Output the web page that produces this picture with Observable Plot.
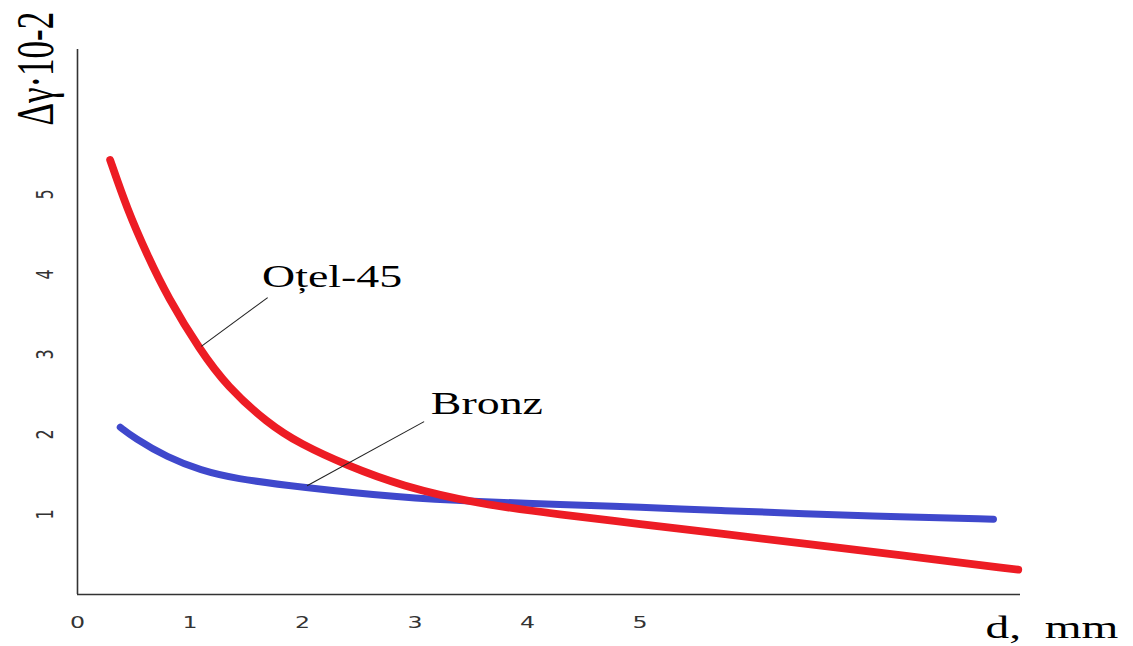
<!DOCTYPE html>
<html><head><meta charset="utf-8">
<script src="https://cdn.jsdelivr.net/npm/d3@7"></script>
<script src="https://cdn.jsdelivr.net/npm/@observablehq/plot@0.6"></script>
<style>body{margin:0;background:#fff;overflow:hidden}</style>
</head><body><div id="chart"></div>
<script>
// Data (d in mm, Δγ in units of 10^-2)
const otelD = [0.29,0.44,0.62,0.80,1.09,1.33,1.69,1.98,2.40,2.87,3.56,4.29,5.00,5.72,6.43,7.32,8.36];
const otelG = [5.43,4.82,4.24,3.72,3.05,2.60,2.14,1.88,1.61,1.36,1.13,1.00,0.88,0.76,0.64,0.49,0.31];
const bronzD = [0.38,0.50,0.80,1.10,1.39,1.98,2.87,3.56,4.29,5.00,5.72,6.43,7.32,8.14];
const bronzG = [2.09,1.96,1.71,1.55,1.45,1.34,1.21,1.16,1.125,1.09,1.05,1.01,0.97,0.94];
const xTicks = [0,1,2,3,4,5];
const yTicks = [1,2,3,4,5];
const seriesNames = ["Oțel-45","Bronz"];
const seriesColors = ["#ed1c24","#3f48cc"];
// annotation label anchors and leader lines (data units)
const labelD = [1.64,3.14];
const labelG = [3.84,2.25];
const leaderD1 = [1.69,3.08], leaderG1 = [3.71,2.16];
const leaderD2 = [1.10,2.04], leaderG2 = [3.10,1.36];
const yTitle = "Δγ·10-2";
const xTitle = "d,\u00A0\u00A0mm";

const otel = otelD.map((d,i)=>({d, g:otelG[i]}));
const bronz = bronzD.map((d,i)=>({d, g:bronzG[i]}));
const labels = seriesNames.map((name,i)=>({name, d:labelD[i], g:labelG[i]}));
const leaders = seriesNames.map((name,i)=>({x1:leaderD1[i], y1:leaderG1[i], x2:leaderD2[i], y2:leaderG2[i]}));

const serif = "'Liberation Serif', 'Times New Roman', serif";
const sans = "'DejaVu Sans', Verdana, sans-serif";

const plot = Plot.plot({
  width: 1133, height: 646,
  marginLeft: 77, marginRight: 113, marginTop: 49, marginBottom: 52,
  x: {domain: [0, 8.38], axis: null},
  y: {domain: [0, 6.81], axis: null},
  style: {background: "#fff"},
  marks: [
    Plot.ruleX([0], {stroke: "#333", strokeWidth: 1.6}),
    Plot.ruleY([0], {stroke: "#333", strokeWidth: 1.6}),
    Plot.axisX(xTicks, {tickSize: 0, tickPadding: 22, tickFormat: "d", fontSize: 16, fontFamily: sans, fill: "#333", label: null}),
    Plot.axisY(yTicks, {tickSize: 0, tickPadding: 25, tickRotate: -90, tickFormat: "d", fontSize: 16, fontFamily: sans, fill: "#333", label: null}),
    Plot.line(bronz, {x: "d", y: "g", stroke: seriesColors[1], strokeWidth: 7, curve: "basis", strokeLinecap: "round"}),
    Plot.line(otel, {x: "d", y: "g", stroke: seriesColors[0], strokeWidth: 7.8, curve: "basis", strokeLinecap: "round"}),
    Plot.link(leaders, {x1: "x1", y1: "y1", x2: "x2", y2: "y2", stroke: "#222", strokeWidth: 1.1}),
    Plot.text(labels, {x: "d", y: "g", text: "name", textAnchor: "start", lineAnchor: "bottom", fontSize: 31, fontFamily: serif, fill: "#000"}),
    Plot.text([yTitle], {frameAnchor: "top-left", dx: -25, dy: 76, rotate: -90, textAnchor: "start", lineAnchor: "bottom", fontSize: 35, fontFamily: serif, fill: "#000"}),
    Plot.text([xTitle], {frameAnchor: "bottom-right", dx: -35, dy: 43, textAnchor: "start", lineAnchor: "bottom", fontSize: 32, fontFamily: serif, fill: "#000"})
  ]
});
// the reference image is horizontally stretched; widen glyphs the same way
const S = 1.48;
plot.querySelectorAll("text").forEach(t => {
  const tr = t.getAttribute("transform");
  if (tr) t.setAttribute("transform", tr.replace(/^(translate\([^)]*\))/, `$1 scale(${S},1)`));
});
document.getElementById("chart").appendChild(plot);
</script>
</body></html>
